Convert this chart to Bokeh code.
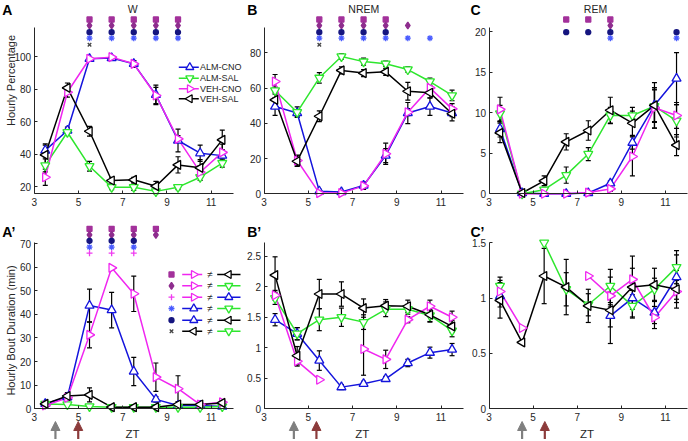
import math
from bokeh.plotting import figure
from bokeh.models import (Range1d, FixedTicker, CustomJSTickFormatter, Whisker,
                          TeeHead, ColumnDataSource, Arrow, NormalHead)
from bokeh.layouts import column, row
from bokeh.embed import file_html
from bokeh.resources import INLINE
from bokeh.core.properties import value

nan = float("nan")

# ---------------- data ----------------
zt = [3.5, 4.5, 5.5, 6.5, 7.5, 8.5, 9.5, 10.5, 11.5]
x_ticks = [3, 5, 7, 9, 11]
groups = ["ALM-CNO", "ALM-SAL", "VEH-CNO", "VEH-SAL"]

# A: W hourly percentage
w_alm_cno = [42.2, 54.5, 98.6, 99.0, 95.5, 76.4, 48.3, 40.5, 39.0]
w_alm_sal = [33.0, 53.4, 32.5, 19.6, 19.6, 17.0, 19.6, 25.7, 34.4]
w_veh_cno = [25.7, 78.0, 98.6, 99.6, 95.5, 76.0, 49.3, 28.8, 41.0]
w_veh_sal = [39.5, 80.7, 54.0, 23.7, 24.1, 20.2, 33.3, 31.5, 48.7]
w_alm_cno_err = [4, 2, 1, 1, 2, 6, 7, 5, 2]
w_alm_sal_err = [4, 2, 3, 1.5, 2, 1.5, 1.5, 2, 2.5]
w_veh_cno_err = [5, 3, 1, 0.5, 2, 5, 2, 4, 5]
w_veh_sal_err = [6, 3, 3, 2, 1.5, 3, 5, 5, 6]

# B: NREM hourly percentage
n_alm_cno = [49.5, 45.8, 1.5, 1.0, 4.7, 21.7, 45.8, 49.5, 45.8]
n_alm_sal = [58.6, 46.3, 65.8, 77.9, 75.0, 73.8, 70.5, 63.7, 55.8]
n_veh_cno = [63.7, 18.9, 0.4, 0.4, 4.5, 22.7, 46.3, 60.1, 48.2]
n_veh_sal = [53.3, 18.5, 44.0, 70.0, 68.5, 69.2, 58.2, 57.3, 45.4]
n_alm_cno_err = [5, 2, 1, 0.5, 2, 4, 6, 5, 2]
n_alm_sal_err = [2, 3, 3, 1.5, 2, 1.5, 1.5, 2, 3]
n_veh_cno_err = [4, 3, 0.5, 0.5, 2, 6, 2, 3, 3]
n_veh_sal_err = [4, 3, 3, 2, 2, 2, 5, 3, 4]

# C: REM hourly percentage
r_alm_cno = [8.0, 0.1, 0.0, 0.0, 0.1, 1.3, 6.3, 10.9, 14.2]
r_alm_sal = [9.9, 0.0, 0.5, 2.3, 4.9, 9.65, 9.65, 10.8, 9.0]
r_veh_cno = [10.4, 0.0, 0.0, 0.0, 0.15, 0.6, 4.6, 10.6, 9.65]
r_veh_sal = [7.5, 0.1, 1.6, 6.4, 7.8, 10.3, 8.7, 10.9, 6.0]
r_alm_cno_err = [1, 0.1, 0, 0, 0.1, 0.3, 0.8, 2, 3.2]
r_alm_sal_err = [1, 0, 0.3, 1, 0.8, 1, 1, 2, 2]
r_veh_cno_err = [1.5, 0, 0, 0, 0.1, 0.3, 2.4, 2.5, 1.6]
r_veh_sal_err = [1.2, 0.1, 0.6, 1, 1.2, 1.6, 1.5, 2.8, 1.3]

# A': W bout duration (min)
wb_alm_cno = [2.1, 4.9, 43.7, 41.8, 15.8, 4.0, 1.4, 1.4, 1.0]
wb_alm_sal = [2.0, 1.8, 1.0, 0.7, 0.7, 0.7, 0.7, 0.7, 1.0]
wb_veh_cno = [1.4, 4.7, 31.3, 59.7, 48.7, 13.4, 8.5, 1.8, 2.8]
wb_veh_sal = [2.1, 5.4, 5.9, 0.7, 0.7, 0.7, 1.8, 1.8, 2.5]
wb_alm_cno_err = [0.5, 1, 7, 7.5, 6, 1.2, 0.5, 0.5, 0.3]
wb_alm_sal_err = [0.3, 0.3, 0.3, 0.2, 0.2, 0.2, 0.2, 0.2, 0.3]
wb_veh_cno_err = [0.5, 1, 5.5, 0, 7.5, 6, 5.5, 0.5, 1]
wb_veh_sal_err = [0.5, 1.5, 3, 0.2, 0.2, 0.2, 0.5, 0.5, 1]

# B': NREM bout duration (min)
nb_alm_cno = [1.46, 1.23, 0.79, 0.355, 0.41, 0.49, 0.75, 0.92, 0.97]
nb_alm_sal = [1.81, 1.23, 1.46, 1.50, 1.42, 1.63, 1.63, 1.53, 1.28]
nb_veh_cno = [1.86, 0.78, 0.475, nan, 0.98, 0.81, 1.46, 1.68, 1.50]
nb_veh_sal = [2.19, 0.87, 1.88, 1.88, 1.65, 1.69, 1.68, 1.54, 1.35]
nb_alm_cno_err = [0.1, 0.1, 0.16, 0.04, 0.04, 0.04, 0.06, 0.09, 0.1]
nb_alm_sal_err = [0.1, 0.1, 0.18, 0.15, 0.12, 0.12, 0.08, 0.1, 0.1]
nb_veh_cno_err = [0.08, 0.08, 0.02, nan, 0.43, 0.15, 0.05, 0.1, 0.1]
nb_veh_sal_err = [0.3, 0.15, 0.24, 0.2, 0.15, 0.1, 0.1, 0.12, 0.1]

# C': REM bout duration (min)
rb_alm_cno = [1.02, nan, nan, nan, nan, 0.84, 1.0, 0.87, 1.19]
rb_alm_sal = [1.11, nan, 1.5, 1.08, 0.94, 1.11, 0.93, 1.08, 1.28]
rb_veh_cno = [1.06, 0.73, nan, nan, 1.2, 1.02, 1.17, 0.825, 1.06]
rb_veh_sal = [0.98, 0.60, 1.20, 1.10, 0.93, 0.89, 1.10, 1.12, 1.08]
rb_alm_cno_err = [0.1, nan, nan, nan, nan, 0.1, 0.1, 0.1, 0.2]
rb_alm_sal_err = [0.08, nan, 0, 0.15, 0.1, 0.15, 0.1, 0.1, 0.15]
rb_veh_cno_err = [0.1, 0, nan, nan, 0, 0.1, 0.1, 0.1, 0.1]
rb_veh_sal_err = [0.16, 0, 0.25, 0.25, 0.15, 0.3, 0.28, 0.15, 0.17]

# significance markers (hours where the comparison differs)
sig_w = {"sq": [5.5, 6.5, 7.5, 8.5, 9.5], "dia": [5.5, 6.5, 7.5, 8.5, 9.5],
         "dot": [5.5, 6.5, 7.5, 8.5, 9.5], "ast": [5.5, 6.5, 7.5, 8.5, 9.5], "x": [5.5]}
sig_n = {"sq": [5.5, 6.5, 7.5, 8.5], "dia": [5.5, 6.5, 7.5, 8.5, 9.5],
         "dot": [5.5, 6.5, 7.5, 8.5], "ast": [5.5, 6.5, 7.5, 8.5, 9.5, 10.5], "x": [5.5]}
sig_r = {"sq": [6.5, 7.5, 8.5], "dia": [8.5], "dot": [6.5, 7.5, 8.5, 11.5],
         "ast": [8.5, 11.5], "x": []}
sig_wb = {"sq": [5.5, 6.5, 7.5, 8.5], "dia": [5.5, 6.5, 7.5, 8.5],
          "dot": [5.5, 6.5, 7.5], "ast": [5.5, 6.5, 7.5], "plus": [5.5, 6.5, 7.5]}
sig_top_rows = ["sq", "dia", "dot", "ast", "x"]
sig_bot_rows = ["sq", "dia", "dot", "ast", "plus"]

# key of the symbols: (symbol, group, group)
sig_key = [("sq", "VEH-CNO", "VEH-SAL"), ("dia", "VEH-CNO", "ALM-SAL"),
           ("plus", "VEH-CNO", "ALM-CNO"), ("ast", "ALM-CNO", "ALM-SAL"),
           ("dot", "ALM-CNO", "VEH-SAL"), ("x", "VEH-SAL", "ALM-SAL")]

# injection arrows (ZT) under each bottom panel: gray, red
arrows_wb = [3.96, 4.99]
arrows_nb = [4.35, 5.37]
arrows_rb = [4.50, 5.53]
arrow_colors = ["#7f7f7f", "#8c3b3b"]

# ---------------- style / layout (page pixels) ----------------
FONT = "Liberation Sans"
INK = "#262626"
STY = {
    "ALM-CNO": dict(color="#1414dc", marker="triangle", angle=0.0),
    "ALM-SAL": dict(color="#2ee62e", marker="inverted_triangle", angle=0.0),
    "VEH-CNO": dict(color="#f026f0", marker="triangle", angle=-math.pi / 2),
    "VEH-SAL": dict(color="#000000", marker="triangle", angle=math.pi / 2),
}
SIG = {
    "sq": dict(marker="square", color="#a3319b", size=5),
    "dia": dict(marker="diamond", color="#8e2d8e", size=7),
    "dot": dict(marker="circle", color="#15157f", size=5),
    "ast": dict(marker="asterisk", color="#4a5cff", size=6),
    "plus": dict(marker="cross", color="#f03cf0", size=6),
    "x": dict(marker="x", color="#444444", size=5),
}

XSPLIT = [0, 242, 466, 688]
YSPLIT = [0, 215, 441]
# x pixel of ZT 3 and ZT 11 per column
XCAL = [(33.7, 210.7), (263.5, 440.5), (488.5, 665.0)]
# axis pixel rows (top, bottom) per row of panels
AXIS_ROWS = [(26.7, 193.3), (241.7, 408.3)]
TOP_SIG_PY = [19.0, 25.0, 31.7, 37.7, 44.3]
BOT_SIG_PY = [228.3, 234.3, 240.3, 246.7, 252.7]


def make_panel(ci, ri, ycal, yticks, series, errs, sig, sig_rows, sig_py):
    fx0, fx1 = XSPLIT[ci], XSPLIT[ci + 1]
    fy0, fy1 = YSPLIT[ri], YSPLIT[ri + 1]
    x3, x11 = XCAL[ci]
    ppx = (x11 - x3) / 8.0
    (va, pa), (vb, pb) = ycal
    ppy = (pa - pb) / (vb - va)

    def v_at(py):
        return va + (pa - py) / ppy

    atop, abot = AXIS_ROWS[ri]
    ybot, ytop = v_at(abot), v_at(atop)
    p = figure(width=fx1 - fx0, height=fy1 - fy0,
               x_range=Range1d(3 - (x3 - fx0) / ppx, 3 + (fx1 - x3) / ppx),
               y_range=Range1d(v_at(fy1), v_at(fy0)),
               output_backend="svg", toolbar_location=None,
               min_border_left=0, min_border_right=0, min_border_top=0, min_border_bottom=0,
               outline_line_color=None)
    p.extra_x_ranges = {"px": Range1d(fx0, fx1)}
    p.extra_y_ranges = {"py": Range1d(fy1, fy0)}
    p.grid.visible = False
    for ax in p.xaxis:
        ax.ticker = FixedTicker(ticks=x_ticks)
        ax.bounds = (3, 12)
        ax.fixed_location = ybot
        ax.major_label_standoff = 4
    for ax in p.yaxis:
        ax.ticker = FixedTicker(ticks=yticks)
        ax.bounds = (ybot, ytop)
        ax.fixed_location = 3
        ax.major_label_standoff = 3
    for ax in p.axis:
        ax.formatter = CustomJSTickFormatter(code="return tick.toString()")
        ax.major_tick_in = 3
        ax.major_tick_out = 0
        ax.minor_tick_line_color = None
        ax.axis_line_color = INK
        ax.major_tick_line_color = INK
        ax.major_label_text_font = FONT
        ax.major_label_text_font_size = "10px"
        ax.major_label_text_color = INK

    for g in groups:
        s = STY[g]
        p.line(zt, series[g], line_color=s["color"], line_width=1.5)
    for g in groups:
        s = STY[g]
        p.scatter(zt, series[g], marker=s["marker"], angle=s["angle"], size=9,
                  line_color=s["color"], fill_color="white", line_width=1.3)
    for g in groups:
        xs, lo, hi = [], [], []
        for xv, yv, ev in zip(zt, series[g], errs[g]):
            if yv == yv and ev == ev and ev > 0:
                xs.append(xv)
                lo.append(yv - ev)
                hi.append(yv + ev)
        src = ColumnDataSource(dict(x=xs, lower=lo, upper=hi))
        p.add_layout(Whisker(base="x", lower="lower", upper="upper", source=src,
                             line_color="black", line_width=1.2,
                             upper_head=TeeHead(size=5, line_color="black", line_width=1.2),
                             lower_head=TeeHead(size=5, line_color="black", line_width=1.2)))

    for k, key in enumerate(sig_rows):
        hrs = sig.get(key, [])
        if not hrs:
            continue
        st = SIG[key]
        p.scatter(hrs, [sig_py[k]] * len(hrs), y_range_name="py", marker=st["marker"],
                  size=st["size"], line_color=st["color"], fill_color=st["color"],
                  line_width=1.3)
    return p


def ptext(p, x, y, t, size, align="center", angle=0.0, bold=False, color=INK):
    p.text([x], [y], text=[t], x_range_name="px", y_range_name="py", angle=angle,
           text_font=value(FONT), text_font_size=size, text_color=color,
           text_align=align, text_baseline="middle",
           text_font_style="bold" if bold else "normal")


def series_of(a, b, c, d):
    return dict(zip(groups, [a, b, c, d]))


pA = make_panel(0, 0, [(20, 186.0), (100, 56.0)], [20, 40, 60, 80, 100],
                series_of(w_alm_cno, w_alm_sal, w_veh_cno, w_veh_sal),
                series_of(w_alm_cno_err, w_alm_sal_err, w_veh_cno_err, w_veh_sal_err),
                sig_w, sig_top_rows, TOP_SIG_PY)
pB = make_panel(1, 0, [(0, 193.3), (80, 52.3)], [0, 20, 40, 60, 80],
                series_of(n_alm_cno, n_alm_sal, n_veh_cno, n_veh_sal),
                series_of(n_alm_cno_err, n_alm_sal_err, n_veh_cno_err, n_veh_sal_err),
                sig_n, sig_top_rows, TOP_SIG_PY)
pC = make_panel(2, 0, [(0, 193.3), (20, 31.0)], [0, 5, 10, 15, 20],
                series_of(r_alm_cno, r_alm_sal, r_veh_cno, r_veh_sal),
                series_of(r_alm_cno_err, r_alm_sal_err, r_veh_cno_err, r_veh_sal_err),
                sig_r, sig_top_rows, TOP_SIG_PY)
pA2 = make_panel(0, 1, [(0, 408.3), (70, 243.0)], [0, 10, 20, 30, 40, 50, 60, 70],
                 series_of(wb_alm_cno, wb_alm_sal, wb_veh_cno, wb_veh_sal),
                 series_of(wb_alm_cno_err, wb_alm_sal_err, wb_veh_cno_err, wb_veh_sal_err),
                 sig_wb, sig_bot_rows, BOT_SIG_PY)
pB2 = make_panel(1, 1, [(0, 408.3), (2.5, 255.7)], [0, 0.5, 1, 1.5, 2, 2.5],
                 series_of(nb_alm_cno, nb_alm_sal, nb_veh_cno, nb_veh_sal),
                 series_of(nb_alm_cno_err, nb_alm_sal_err, nb_veh_cno_err, nb_veh_sal_err),
                 {}, sig_bot_rows, BOT_SIG_PY)
pC2 = make_panel(2, 1, [(0, 408.3), (1.5, 242.3)], [0, 0.5, 1, 1.5],
                 series_of(rb_alm_cno, rb_alm_sal, rb_veh_cno, rb_veh_sal),
                 series_of(rb_alm_cno_err, rb_alm_sal_err, rb_veh_cno_err, rb_veh_sal_err),
                 {}, sig_bot_rows, BOT_SIG_PY)

# titles, panel letters, y-axis labels
ptext(pA, 132.3, 8.3, "W", "10.5px")
ptext(pB, 363.3, 8.3, "NREM", "10.5px")
ptext(pC, 595.0, 8.3, "REM", "10.5px")
ptext(pA, 1.7, 9.0, "A", "14px", align="left", bold=True, color="black")
ptext(pB, 246.7, 9.0, "B", "14px", align="left", bold=True, color="black")
ptext(pC, 470.0, 9.0, "C", "14px", align="left", bold=True, color="black")
ptext(pA2, 1.7, 231.0, "A\u2019", "14px", align="left", bold=True, color="black")
ptext(pB2, 246.7, 231.0, "B\u2019", "14px", align="left", bold=True, color="black")
ptext(pC2, 470.0, 231.0, "C\u2019", "14px", align="left", bold=True, color="black")
ptext(pA, 10.0, 80.0, "Hourly Percentage", "11px", angle=math.pi / 2)
ptext(pA2, 10.0, 330.0, "Hourly Bout Duration (min)", "11px", angle=math.pi / 2)

# legend of groups in panel A
LEG_PY = [66.7, 77.7, 88.3, 98.3]
for g, yy in zip(groups, LEG_PY):
    s = STY[g]
    pA.line([178.3, 198.3], [yy, yy], x_range_name="px", y_range_name="py",
            line_color=s["color"], line_width=1.5)
    pA.scatter([189.3], [yy], x_range_name="px", y_range_name="py", marker=s["marker"],
               angle=s["angle"], size=8, line_color=s["color"], fill_color="white",
               line_width=1.3)
    ptext(pA, 199.5, yy, g, "9px", align="left")

# key of significance symbols in panel A'
KEY_PY = [274.0, 285.3, 296.7, 308.0, 319.7, 330.7]
for (sym, g1, g2), yy in zip(sig_key, KEY_PY):
    st = SIG[sym]
    pA2.scatter([171.0], [yy], x_range_name="px", y_range_name="py", marker=st["marker"],
                size=st["size"], line_color=st["color"], fill_color=st["color"], line_width=1.3)
    for g, (xa, xb, xm) in ((g1, (181.7, 201.7, 193.3)), (g2, (216.7, 240.0, 228.3))):
        s = STY[g]
        pA2.line([xa, xb], [yy, yy], x_range_name="px", y_range_name="py",
                 line_color=s["color"], line_width=1.5)
        pA2.scatter([xm], [yy], x_range_name="px", y_range_name="py", marker=s["marker"],
                    angle=s["angle"], size=8, line_color=s["color"], fill_color="white",
                    line_width=1.3)
    ptext(pA2, 209.5, yy, "\u2260", "10px")

# injection arrows and ZT labels under the bottom panels
for p, arrs in ((pA2, arrows_wb), (pB2, arrows_nb), (pC2, arrows_rb)):
    for xa, c in zip(arrs, arrow_colors):
        p.add_layout(Arrow(x_start=xa, y_start=438.5, x_end=xa, y_end=421.0,
                           y_range_name="py", line_color=c, line_width=2.2,
                           end=NormalHead(size=9, fill_color=c, line_color=c, line_width=1)))
    p.text([7.44], [433.0], text=["ZT"], y_range_name="py", text_font=value(FONT),
           text_font_size="11.5px", text_color=INK, text_align="center",
           text_baseline="middle")

layout = column(row(pA, pB, pC), row(pA2, pB2, pC2))

open("out.html", "w").write(file_html(layout, INLINE))
